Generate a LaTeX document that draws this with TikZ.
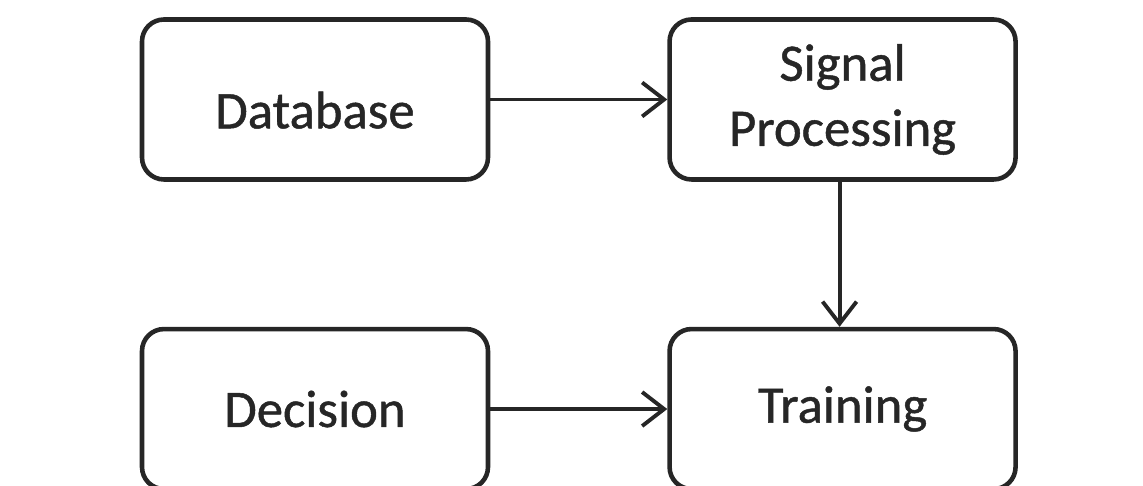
\documentclass[tikz,border=0pt]{standalone}
\usepackage{fontspec}
\setmainfont{Carlito}
\newfontfamily\boxfont{Carlito}[FakeBold=0.9]
\usepackage{tikz}
\usetikzlibrary{positioning,arrows.meta}

\begin{document}
\begin{tikzpicture}[>={Straight Barb[length=2.2mm,width=3.4mm]},
    block/.style={draw=black!85, line width=1.3pt, rounded corners=0.22cm,
        minimum width=3.46cm, minimum height=1.6cm, align=center,
        text=black!85, font=\boxfont\fontsize{15}{18.5}\selectfont},
    flow/.style={draw=black!85, line width=1.1pt, ->}]
        \useasboundingbox (0,0) rectangle (11.43,4.86);

        % Top row
        \node[block, text height=0.58cm] (database) at (3.15,3.865) {Database};
        \node[block, right=1.77cm of database.east, anchor=west] (signal) {Signal\\Processing};

        % Bottom row
        \node[block, below=1.45cm of signal] (training) {Training};
        \node[block, left=1.77cm of training] (decision) {Decision};

        % Connections
        \draw[flow] (database) -- (signal.west |- database);
        \draw[flow] ([xshift=-0.03cm]signal.south) -- ([xshift=-0.03cm]training.north);
        \draw[flow] (decision) -- (training);
    \end{tikzpicture}
\end{document}
